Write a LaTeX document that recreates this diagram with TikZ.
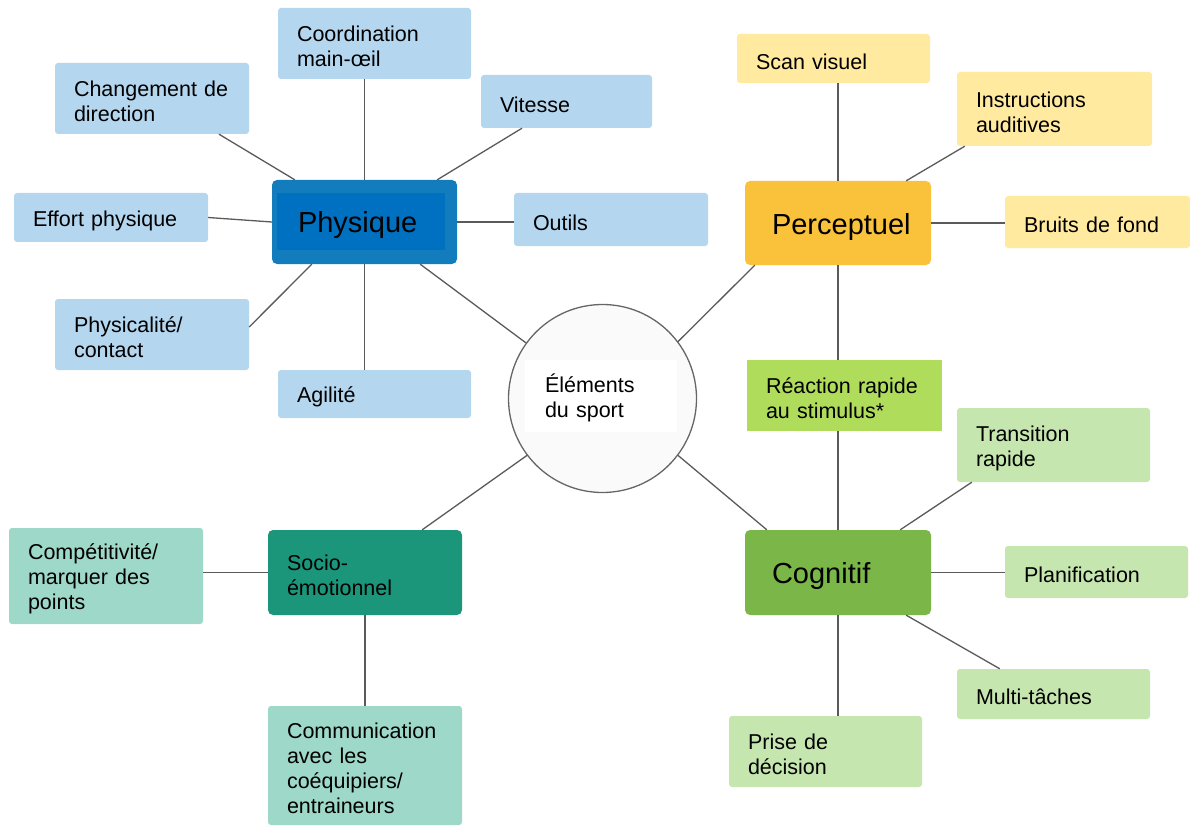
\documentclass[tikz,border=0pt]{standalone}
\usepackage{fontspec}
\setmainfont{Liberation Sans}
\usetikzlibrary{calc}
\definecolor{lblue}{HTML}{B4D6EF}
\definecolor{physout}{HTML}{127CBD}
\definecolor{physin}{HTML}{0070C0}
\definecolor{percc}{HTML}{FAC23A}
\definecolor{lyellow}{HTML}{FFEAA0}
\definecolor{cogc}{HTML}{7AB648}
\definecolor{reacc}{HTML}{B0DC5C}
\definecolor{lgreen}{HTML}{C6E6B0}
\definecolor{socc}{HTML}{1B967A}
\definecolor{lteal}{HTML}{9ED8C8}
\definecolor{linegray}{HTML}{5A5A5A}
\definecolor{circfill}{HTML}{FAFAFA}
\definecolor{circgray}{HTML}{666666}
\tikzset{
  leaf/.style={rectangle, rounded corners=3pt, inner xsep=19pt, inner ysep=0pt,
    align=left, font=\fontsize{21.5}{25}\selectfont,
    execute at begin node={\rule{0pt}{21.5pt}}},
  hub/.style={rectangle, rounded corners=5pt, inner xsep=27pt, inner ysep=0pt,
    font=\fontsize{29}{33}\selectfont},
  conn/.style={draw=linegray, line width=1.3pt},
}
\newcommand{\hubtext}[2]{\makebox[#1][l]{\rule{0pt}{29pt}#2}}
\begin{document}
\begin{tikzpicture}[x=1pt,y=-1pt]
\useasboundingbox (0,0) rectangle (1190,826);
% hubs
\node[hub, fill=physout, minimum width=185, minimum height=84] (phys) at (364.5,222) {};
\node[hub, fill=physin, rounded corners=0, inner xsep=21pt, minimum width=168, minimum height=57] (physin) at (361,221.5) {\hubtext{126pt}{Physique}};
\node[hub, fill=percc, minimum width=186, minimum height=84] (perc) at (838,223) {\hubtext{132pt}{Perceptuel}};
\node[hub, fill=cogc, minimum width=186, minimum height=85] (cog) at (838,572.5) {\hubtext{132pt}{Cognitif}};
\node[leaf, rounded corners=5pt, fill=socc, text width=156, minimum height=85] (soc) at (365,572.5) {Socio-\\émotionnel};
% centre
\node[circle, draw=circgray, line width=1.3pt, fill=circfill, minimum size=188, inner sep=0pt] (cen) at (602.5,398.5) {};
\node[leaf, fill=white, rounded corners=0pt, inner xsep=20pt, text width=112, minimum height=72] (centxt) at (601,396) {Éléments\\du sport};
% physique leaves
\node[leaf, fill=lblue, text width=155, minimum height=71] (coord) at (374.5,43.5) {Coordination\\main-œil};
\node[leaf, fill=lblue, text width=156, minimum height=71] (chg) at (152,98.5) {Changement de\\direction};
\node[leaf, fill=lblue, text width=133, minimum height=53] (vit) at (566.5,101.5) {Vitesse};
\node[leaf, fill=lblue, text width=156, minimum height=49] (eff) at (111,217.5) {Effort physique};
\node[leaf, fill=lblue, text width=156, minimum height=53] (out) at (611,219.5) {Outils};
\node[leaf, fill=lblue, text width=156, minimum height=71] (phyc) at (152,334.5) {Physicalité/\\contact};
\node[leaf, fill=lblue, text width=155, minimum height=48] (agi) at (374.5,394) {Agilité};
% perceptuel leaves
\node[leaf, fill=lyellow, text width=155, minimum height=49] (scan) at (833.5,58.5) {Scan visuel};
\node[leaf, fill=lyellow, text width=157, minimum height=74] (instr) at (1054.5,109) {Instructions\\auditives};
\node[leaf, fill=lyellow, text width=147, minimum height=52] (bruit) at (1097.5,222) {Bruits de fond};
\node[leaf, fill=reacc, rounded corners=0pt, text width=157, minimum height=71] (reac) at (844.5,395.5) {Réaction rapide\\au stimulus*};
% cognitif leaves
\node[leaf, fill=lgreen, text width=155, minimum height=74] (trans) at (1053.5,445) {Transition\\rapide};
\node[leaf, fill=lgreen, text width=145, minimum height=52] (plan) at (1096.5,572) {Planification};
\node[leaf, fill=lgreen, text width=155, minimum height=50] (multi) at (1053.5,694) {Multi-tâches};
\node[leaf, fill=lgreen, text width=155, minimum height=71] (prise) at (825.5,751.5) {Prise de\\décision};
% socio leaves
\node[leaf, fill=lteal, text width=156, minimum height=96] (comp) at (106,576) {Compétitivité/\\marquer des\\points};
\node[leaf, fill=lteal, text width=156, minimum height=119] (comm) at (365,765.5) {Communication\\avec les\\coéquipiers/\\entraineurs};
% connectors physique
\draw[conn] (phys.north) -- (phys.north |- coord.south);
\draw[conn] ($(chg.south)+(67,0)$) -- ($(phys.north west)+(23,0)$);
\draw[conn] ($(vit.south)+(-44.5,0)$) -- ($(phys.north east)+(-20,0)$);
\draw[conn] (eff.east) -- (phys.west);
\draw[conn] (phys.east) -- (phys.east -| out.west);
\draw[conn] ($(phyc.east)+(0,-7.5)$) -- ($(phys.south west)+(40,0)$);
\draw[conn] (phys.south) -- (phys.south |- agi.north);
\draw[conn] ($(phys.south east)+(-37,0)$) -- (cen.144);
% connectors perceptuel
\draw[conn] (perc.north) -- (perc.north |- scan.south);
\draw[conn] ($(perc.north east)+(-25,0)$) -- ($(instr.south west)+(8,0)$);
\draw[conn] (perc.east) -- (perc.east -| bruit.west);
\draw[conn] (perc.south) -- (perc.south |- reac.north);
\draw[conn] ($(perc.south west)+(10,0)$) -- (cen.37);
% connectors cognitif
\draw[conn] (cog.north) -- (cog.north |- reac.south);
\draw[conn] ($(cog.north east)+(-31,0)$) -- ($(trans.south west)+(15,0)$);
\draw[conn] (cog.east) -- (cog.east -| plan.west);
\draw[conn] ($(cog.south east)+(-25,0)$) -- ($(multi.north west)+(43,0)$);
\draw[conn] (cog.south) -- (cog.south |- prise.north);
\draw[conn] ($(cog.north west)+(22,0)$) -- (cen.-37);
% connectors socio
\draw[conn] (soc.west) -- (soc.west -| comp.east);
\draw[conn] (soc.south) -- (soc.south |- comm.north);
\draw[conn] ($(soc.north east)+(-40,0)$) -- (cen.-143);
\end{tikzpicture}
\end{document}
